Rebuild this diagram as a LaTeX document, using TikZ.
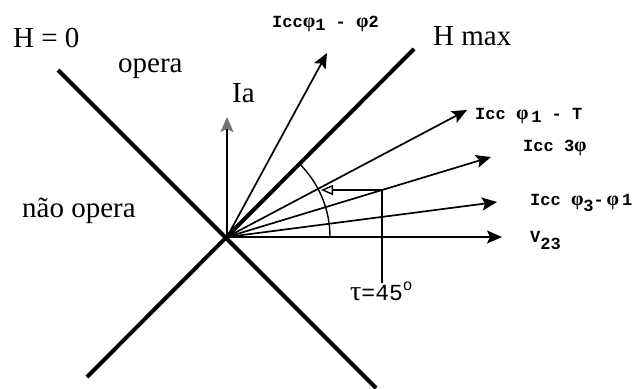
\documentclass[tikz,border=0pt]{standalone}
\usepackage{fontspec}
\setmainfont{Liberation Serif}
\newfontfamily\monof{Liberation Mono}
\newcommand{\gphi}{{\rmfamily\fontsize{20}{22}\selectfont φ}}
\usetikzlibrary{arrows.meta}
\begin{document}
\begin{tikzpicture}[x=1pt,y=-1pt,
  hline/.style={line width=4pt},
  vec/.style={line width=1.7pt,-{Stealth[length=15pt,width=13pt,inset=3pt]}},
  thinl/.style={line width=1.4pt},
  serif/.style={font=\fontsize{29}{34}\selectfont, inner sep=0pt, anchor=base west},
  mlabel/.style={font=\monof\bfseries\fontsize{17}{20}\selectfont, inner sep=0pt, anchor=base west}]
\useasboundingbox (0,0) rectangle (636,388);
% main lines
\coordinate (O) at (227,237);
\coordinate (A) at (58,70);
\coordinate (B) at (376,388);
\coordinate (C) at (87,377);
\coordinate (D) at (414,49);
\draw[hline] (A) -- (B);
\draw[hline] (C) -- (D);
% vectors
\coordinate (ia) at (227,117);
\coordinate (t12) at (327,53);
\coordinate (t1T) at (467,110);
\coordinate (t3) at (491,157);
\coordinate (t31) at (497,202);
\coordinate (v) at (502,237);
\draw[line width=1.7pt,-{Stealth[length=15pt,width=13pt,inset=3pt,color=black!55]}] (O) -- (ia);
\draw[vec] (O) -- (t12);
\draw[vec] (O) -- (t1T);
\draw[vec] (O) -- (t3);
\draw[vec] (O) -- (t31);
\draw[vec] (O) -- (v);
% angle arc and marker
\coordinate (arc0) at (330,237);
\draw[thinl] (arc0) arc[start angle=0,end angle=-45,radius=103];
\coordinate (K) at (382,190);
\coordinate (Kb) at (382,283);
\coordinate (Ka) at (321,190);
\draw[thinl] (Kb) -- (K);
\draw[thinl,-{Triangle[open,length=12pt,width=10pt]}] (K) -- (Ka);
% labels
\node[serif] (h0) at (13,47) {H = 0};
\node[serif] (op) at (118,72) {opera};
\node[serif] (nop) at (22,217) {não opera};
\node[serif] (hmax) at (433,45) {H max};
\node[serif] (ialab) at (232,102) {Ia};
\node[mlabel] (l12) at (272,27) {Icc\gphi\raisebox{-3pt}{1} - \gphi\raisebox{-1pt}{2}};
\node[mlabel] (l1T) at (475,119) {Icc \gphi\,\raisebox{-3pt}{1} - T};
\node[mlabel] (l3) at (523,151) {Icc 3\gphi};
\node[mlabel] (l31) at (530,205) {Icc \gphi\raisebox{-6pt}{3}-\,\gphi\,1};
\node[mlabel] (lv) at (530,242) {V\raisebox{-7pt}{23}};
\node[mlabel,font=\monof\fontsize{23}{26}\selectfont] (tau) at (350,300) {{\rmfamily\fontsize{28}{30}\selectfont τ}=45\raisebox{10pt}{\fontsize{16}{18}\selectfont o}};
\end{tikzpicture}
\end{document}
